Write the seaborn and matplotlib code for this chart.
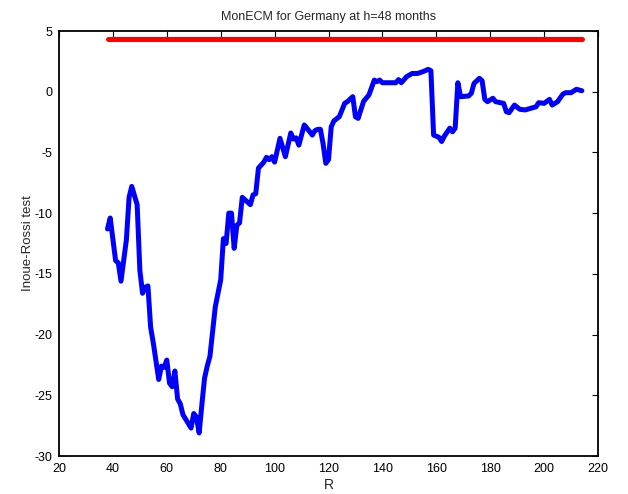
import numpy as np
import pandas as pd
import matplotlib
matplotlib.use("Agg")
import matplotlib.pyplot as plt
import seaborn as sns

# Valores (R, estadistico Inoue-Rossi)
R = [38, 39, 41, 42, 43, 45, 46, 47, 49, 50, 51, 52, 53, 54, 55, 57, 58, 59, 60,
     61, 62, 63, 64, 65, 66, 69, 70, 71, 72, 73, 74, 75, 76, 78, 80, 81, 82, 83,
     84, 85, 86, 87, 88, 91, 92, 93, 94, 96, 97, 98, 99, 100, 102, 104, 106, 107,
     108, 109, 111, 112, 114, 115, 116, 117, 118, 119, 120, 121, 122, 124, 126,
     127, 129, 130, 131, 133, 135, 137, 138, 139, 140, 143, 145, 146, 147, 149,
     151, 153, 155, 157, 158, 159, 161, 162, 163, 165, 166, 167, 168, 169, 172,
     173, 174, 176, 177, 178, 179, 181, 182, 185, 186, 187, 189, 191, 193, 195,
     197, 198, 200, 202, 203, 205, 207, 208, 210, 212, 214]
test = [-11.3, -10.4, -13.9, -14.1, -15.6, -12.2, -8.7, -7.8, -9.3, -14.7, -16.6,
        -16.1, -16.0, -19.4, -20.7, -23.7, -22.6, -22.7, -22.1, -24.0, -24.3,
        -23.0, -25.3, -25.7, -26.6, -27.7, -26.5, -26.8, -28.1, -25.8, -23.6,
        -22.6, -21.8, -17.7, -15.5, -12.1, -12.5, -10.0, -10.0, -12.9, -11.0,
        -10.8, -8.7, -9.3, -8.5, -8.4, -6.3, -5.8, -5.4, -5.6, -5.35, -5.8,
        -3.84, -5.35, -3.4, -3.9, -3.8, -4.4, -2.74, -3.0, -3.57, -3.2, -3.1,
        -3.1, -4.3, -5.9, -5.6, -2.9, -2.4, -2.06, -0.96, -0.82, -0.41, -2.06,
        -2.2, -0.8, -0.27, 0.96, 0.83, 0.96, 0.74, 0.74, 0.74, 1.0, 0.74, 1.24,
        1.5, 1.5, 1.65, 1.84, 1.73, -3.57, -3.76, -4.1, -3.65, -3.0, -3.3, -3.0,
        0.74, -0.41, -0.35, -0.13, 0.69, 1.1, 0.9, -0.63, -0.82, -0.54, -0.82,
        -0.96, -1.65, -1.73, -1.1, -1.45, -1.5, -1.37, -1.24, -0.9, -0.96, -0.63,
        -1.1, -0.82, -0.19, -0.08, -0.08, 0.2, 0.08]
valor_critico = 4.35
xticks = [20, 40, 60, 80, 100, 120, 140, 160, 180, 200, 220]
yticks = [-30, -25, -20, -15, -10, -5, 0, 5]

datos = pd.DataFrame({"R": R, "test": test})
critico = pd.DataFrame({"R": [R[0], R[-1]], "cv": [valor_critico, valor_critico]})

sns.set_style("white")
plt.rcParams["font.family"] = ["Liberation Sans", "DejaVu Sans"]
plt.rcParams["axes.unicode_minus"] = False

fig = plt.figure(figsize=(6.28, 4.94), dpi=100)
ax = fig.add_axes([59 / 628, 38 / 494, 539 / 628, 425 / 494])

sns.lineplot(data=datos, x="R", y="test", color="#0000ff", linewidth=3.6, ax=ax)
sns.lineplot(data=critico, x="R", y="cv", color="#ff0000", linewidth=3.6, ax=ax)

ax.set_xlim(20, 220)
ax.set_ylim(-30, 5)
ax.set_xticks(xticks)
ax.set_yticks(yticks)
ax.tick_params(direction="in", length=4, width=0.8, top=True, right=True,
               labelsize=9, colors="black", pad=5)
for s in ax.spines.values():
    s.set_color("black")
    s.set_linewidth(1.3)
ax.set_xlabel("R", fontsize=10, labelpad=2)
ax.set_ylabel("Inoue-Rossi test", fontsize=9.5, labelpad=0)
ax.set_title("MonECM for Germany at h=48 months", fontsize=9, pad=8)

fig.savefig("out.png", dpi=100)
